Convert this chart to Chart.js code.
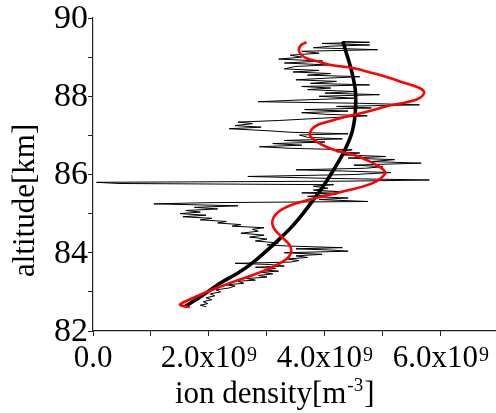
<!DOCTYPE html>
<html>
<head>
<meta charset="utf-8">
<script src="https://cdn.jsdelivr.net/npm/chart.js@4/dist/chart.umd.min.js"></script>
<style>
  html, body { margin: 0; padding: 0; background: #fff; }
  #wrap { width: 496px; height: 413px; position: relative; }
</style>
</head>
<body>
<div id="wrap"><canvas id="c"></canvas></div>
<script>
// Units: ion density in 10^9 m^-3, altitude in km
// Measured (noisy) profile
const measAlt = [82.62,82.66,82.70,82.75,82.80,82.85,82.90,82.95,83.00,83.05,83.10,83.15,83.18,83.22,83.27,83.30,83.34,83.38,83.42,83.46,83.50,83.53,83.56,83.60,83.63,83.66,83.70,83.73,83.76,83.80,83.84,83.88,83.92,83.96,84.00,84.04,84.07,84.10,84.13,84.17,84.20,84.25,84.30,84.35,84.40,84.45,84.50,84.55,84.60,84.64,84.68,84.72,84.76,84.80,84.84,84.88,84.92,84.96,85.00,85.04,85.08,85.12,85.16,85.20,85.25,85.28,85.31,85.36,85.40,85.44,85.50,85.53,85.56,85.60,85.65,85.70,85.74,85.77,85.80,85.83,85.86,85.90,85.95,86.00,86.05,86.09,86.12,86.16,86.20,86.24,86.29,86.33,86.38,86.42,86.46,86.50,86.55,86.58,86.63,86.67,86.71,86.75,86.79,86.83,86.87,86.91,86.95,87.01,87.04,87.08,87.12,87.17,87.21,87.25,87.30,87.34,87.38,87.42,87.46,87.50,87.54,87.58,87.62,87.66,87.70,87.74,87.78,87.82,87.86,87.90,87.95,88.00,88.04,88.08,88.12,88.17,88.21,88.25,88.29,88.33,88.38,88.42,88.46,88.50,88.54,88.58,88.62,88.66,88.70,88.76,88.80,88.85,88.90,88.95,89.00,89.05,89.10,89.15,89.19,89.24,89.28,89.31,89.35,89.38,89.40];
const measDen = [1.95,1.85,1.98,1.90,2.05,1.95,2.10,2.02,2.20,2.12,2.35,2.45,2.30,2.60,2.50,2.80,2.65,3.00,2.85,3.10,2.90,3.20,2.95,3.15,2.80,3.30,3.05,2.45,3.40,3.55,3.35,3.70,3.50,3.95,3.30,4.40,4.10,3.50,4.30,3.40,3.00,3.20,2.80,3.00,2.70,2.95,2.55,2.85,2.75,2.95,2.40,2.55,2.15,2.30,1.85,2.05,1.55,1.95,1.50,1.85,1.60,2.15,1.75,2.50,1.05,2.00,4.74,3.90,4.40,3.70,4.20,3.60,4.28,3.80,4.05,3.80,4.15,0.45,0.06,4.40,5.80,4.10,2.67,4.50,5.14,4.30,3.50,4.70,5.00,4.50,5.66,4.80,5.20,4.40,5.05,4.30,4.60,4.20,4.47,3.40,2.87,3.60,3.10,4.00,3.30,4.30,3.70,3.56,4.40,3.40,3.00,2.35,2.90,2.45,2.75,2.50,3.20,3.70,4.20,4.73,4.00,3.60,4.40,3.65,4.80,4.20,5.63,4.60,2.85,3.50,4.50,3.90,4.94,4.00,4.50,3.70,4.10,3.60,4.77,3.75,4.20,3.50,4.00,4.60,3.70,4.10,3.45,3.90,3.30,3.48,4.05,3.30,3.96,3.20,3.60,3.40,3.90,3.60,4.91,3.80,4.10,4.77,3.95,4.77,4.30];

// Smooth background fit (thick black)
const fitAlt = [82.62,82.90,83.22,83.50,83.80,84.10,84.40,84.70,85.00,85.35,85.70,86.00,86.50,87.00,87.40,87.80,88.20,88.70,89.10,89.40];
const fitDen = [1.58,1.88,2.19,2.52,2.80,3.03,3.25,3.45,3.62,3.80,3.97,4.10,4.30,4.45,4.51,4.53,4.52,4.45,4.37,4.31];

// Wave fit (red)
const waveAlt = [82.61,82.64,82.68,82.80,82.96,83.13,83.30,83.43,83.64,83.78,83.90,84.05,84.20,84.41,84.58,84.75,84.92,85.05,85.14,85.25,85.35,85.48,85.60,85.69,85.82,85.95,86.06,86.20,86.35,86.50,86.63,86.76,86.90,87.01,87.15,87.27,87.38,87.52,87.64,87.74,87.91,88.08,88.21,88.35,88.50,88.62,88.72,88.80,88.90,88.97,89.08,89.19,89.31,89.38];
const waveDen = [1.67,1.55,1.50,1.66,1.90,2.19,2.50,2.76,3.10,3.28,3.38,3.42,3.39,3.25,3.14,3.09,3.12,3.20,3.30,3.48,3.71,4.08,4.40,4.65,4.88,5.00,5.04,4.94,4.75,4.50,4.15,3.95,3.80,3.74,3.77,3.88,4.12,4.48,4.82,5.05,5.57,5.71,5.63,5.35,5.05,4.75,4.48,4.10,3.85,3.68,3.58,3.55,3.59,3.68];

// Axis ticks
const xTickVals = [0, 2, 4, 6];
const xTickBase = ['0.0', '2.0x10', '4.0x10', '6.0x10'];
const xTickSup  = ['', '9', '9', '9'];
const yTickVals = [82, 84, 86, 88, 90];
const yTickText = ['82', '84', '86', '88', '90'];
const xTitle = ['ion density[m', '-3', ']'];
const yTitle = 'altitude[km]';

const toPts = (alt, den) => alt.map((a, i) => ({ x: den[i], y: a }));
const SERIF = '"Liberation Serif", "Times New Roman", serif';

const labelPlugin = {
  id: 'serifLabels',
  afterDraw(chart) {
    const ctx = chart.ctx;
    const xs = chart.scales.x, ys = chart.scales.y;
    const area = chart.chartArea;
    ctx.save();
    ctx.fillStyle = '#000';
    ctx.textBaseline = 'alphabetic';
    ctx.textAlign = 'left';
    // x tick labels
    xTickVals.forEach((v, i) => {
      const px = xs.getPixelForValue(v);
      ctx.font = '31px ' + SERIF;
      const wb = ctx.measureText(xTickBase[i]).width;
      ctx.font = '20px ' + SERIF;
      const ws = xTickSup[i] ? ctx.measureText(xTickSup[i]).width + 1 : 0;
      const left = px - (wb + ws) / 2;
      ctx.font = '31px ' + SERIF;
      ctx.fillText(xTickBase[i], left, area.bottom + 36);
      if (xTickSup[i]) {
        ctx.font = '20px ' + SERIF;
        ctx.fillText(xTickSup[i], left + wb + 1, area.bottom + 30);
      }
    });
    // y tick labels
    ctx.textAlign = 'right';
    ctx.textBaseline = 'middle';
    ctx.font = '34px ' + SERIF;
    yTickVals.forEach((v, i) => {
      ctx.fillText(yTickText[i], area.left - 5, ys.getPixelForValue(v) + 1);
    });
    // x title
    ctx.textAlign = 'left';
    ctx.textBaseline = 'alphabetic';
    ctx.font = '31px ' + SERIF;
    let x0 = 175;
    const base = area.bottom + 72;
    ctx.fillText(xTitle[0], x0, base);
    x0 += ctx.measureText(xTitle[0]).width + 1;
    ctx.font = '19px ' + SERIF;
    ctx.fillText(xTitle[1], x0, base - 12);
    x0 += ctx.measureText(xTitle[1]).width + 1;
    ctx.font = '31px ' + SERIF;
    ctx.fillText(xTitle[2], x0, base);
    // y title
    ctx.save();
    ctx.translate(34, 277);
    ctx.rotate(-Math.PI / 2);
    ctx.font = '31px ' + SERIF;
    ctx.fillText(yTitle, 0, 0);
    ctx.restore();
    ctx.restore();
  }
};

const axisCommon = {
  grid: { display: true, drawOnChartArea: false, drawTicks: true, tickLength: 5, color: '#222', lineWidth: 1 },
  border: { display: true, color: '#222', width: 1.2 },
  ticks: { display: false },
  title: { display: false }
};

new Chart(document.getElementById('c'), {
  type: 'scatter',
  data: {
    datasets: [
      { data: toPts(waveAlt, waveDen), showLine: true, borderColor: '#ff0000', borderWidth: 2.6, pointRadius: 0, tension: 0.35, fill: false },
      { data: toPts(fitAlt, fitDen), showLine: true, borderColor: '#000', borderWidth: 3.6, pointRadius: 0, tension: 0.35, fill: false },
      { data: toPts(measAlt, measDen), showLine: true, borderColor: '#000', borderWidth: 1, pointRadius: 0, tension: 0, fill: false }
    ]
  },
  options: {
    responsive: true,
    maintainAspectRatio: false,
    animation: false,
    layout: { padding: { left: 88, right: 0, top: 18, bottom: 77 } },
    plugins: { legend: { display: false }, tooltip: { enabled: false } },
    scales: {
      x: Object.assign({}, axisCommon, {
        type: 'linear', min: 0, max: 6.95,
        ticks: { display: false, stepSize: 1 },
        afterBuildTicks: s => { s.ticks = s.ticks.filter(t => Math.abs(t.value - Math.round(t.value)) < 1e-9); }
      }),
      y: Object.assign({}, axisCommon, {
        type: 'linear', min: 82, max: 90,
        ticks: { display: false, stepSize: 1 }
      })
    }
  },
  plugins: [labelPlugin]
});
</script>
</body>
</html>
